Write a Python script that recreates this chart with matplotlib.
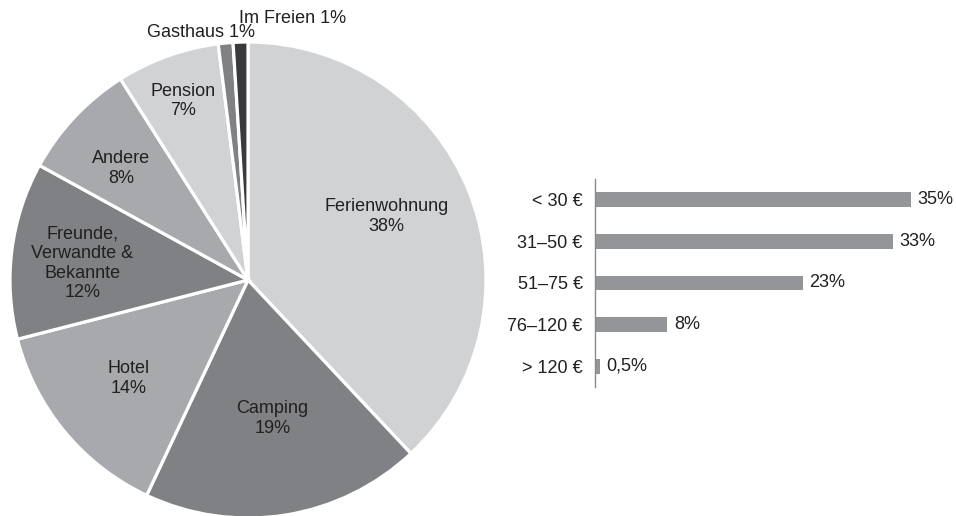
import numpy as np
import matplotlib.pyplot as plt

plt.rcParams['font.family'] = ['Liberation Sans', 'DejaVu Sans']

# Unterkunftsarten (Anteile in %)
pie_labels = ['Ferienwohnung', 'Camping', 'Hotel', 'Freunde,\nVerwandte &\nBekannte',
              'Andere', 'Pension', 'Gasthaus', 'Im Freien']
pie_values = [38, 19, 14, 12, 8, 7, 1, 1]
pie_colors = ['#d1d2d4', '#808184', '#a7a9ac', '#808184',
              '#a7a9ac', '#d1d2d4', '#808184', '#3a3a3c']

# Ausgaben pro Nacht
price_labels = ['< 30 €', '31–50 €', '51–75 €', '76–120 €', '> 120 €']
price_values = [35, 33, 23, 8, 0.5]

text_color = '#231f20'
fs = 13

fig = plt.figure(figsize=(9.56, 5.16), dpi=100)

# pie, radius 1, centered in a square axes
ax = fig.add_axes([10/956, -2/516, 476/956, 476/516])
wedges, _ = ax.pie(pie_values, colors=pie_colors, startangle=90, counterclock=False,
                   radius=1, wedgeprops=dict(edgecolor='white', linewidth=2.3))
ax.set_xlim(-1, 1)
ax.set_ylim(-1, 1)
ax.set_aspect('equal')
ax.axis('off')

# (radius, angle shift in degrees) for the labels inside the wedges
label_pos = [(0.64, 3), (0.59, 1), (0.65, 0), (0.70, 1.5), (0.71, 2), (0.80, 0)]
for w, lab, val, (r, da) in zip(wedges, pie_labels, pie_values, label_pos):
    mid = np.deg2rad((w.theta1 + w.theta2) / 2 + da)
    ax.text(r*np.cos(mid), r*np.sin(mid), f'{lab}\n{val}%', ha='center', va='center',
            fontsize=fs, color=text_color, linespacing=1.2)

# the two small slices get labels outside the circle
ax.text(-0.197, 1.038, f'{pie_labels[6]} {pie_values[6]}%', ha='center', va='center',
        fontsize=fs, color=text_color, clip_on=False)
ax.text(0.189, 1.10, f'{pie_labels[7]} {pie_values[7]}%', ha='center', va='center',
        fontsize=fs, color=text_color, clip_on=False)

# horizontal bars
bx = fig.add_axes([595/956, 129/516, 361/956, 208/516])
y = np.arange(len(price_values))
bx.barh(y, price_values, height=0.36, color='#939598')
bx.set_xlim(0, 40)
bx.set_ylim(len(price_values) - 0.5, -0.5)
bx.set_yticks(y)
bx.set_yticklabels(price_labels, fontsize=fs, color=text_color)
bx.tick_params(axis='y', length=0, pad=9)
bx.set_xticks([])
for s in ['top', 'right', 'bottom']:
    bx.spines[s].set_visible(False)
bx.spines['left'].set_color('#8a8a8a')
bx.spines['left'].set_linewidth(1)
for yi, v in zip(y, price_values):
    txt = f'{v:g}%'.replace('.', ',')
    bx.text(v + 0.75, yi, txt, ha='left', va='center', fontsize=fs, color=text_color)

fig.savefig('out.png', dpi=100)
